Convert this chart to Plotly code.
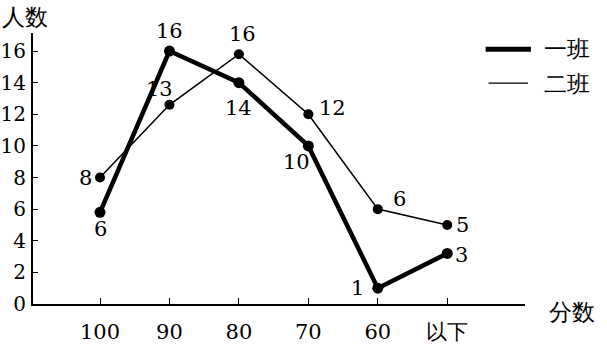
import plotly.graph_objects as go

categories = ["100", "90", "80", "70", "60", "以下"]
class1_values = [5.8, 16, 14, 10, 1, 3.2]
class1_labels = ["6", "16", "14", "10", "1", "3"]
class2_values = [8, 12.6, 15.8, 12, 6, 5]
class2_labels = ["8", "13", "16", "12", "6", "5"]
y_ticks = [0, 2, 4, 6, 8, 10, 12, 14, 16]
series_names = ["一班", "二班"]

FONT = "DejaVu Serif"
FS = 20
xs = list(range(len(categories)))

fig = go.Figure()
fig.add_trace(go.Scatter(x=xs, y=class2_values, mode="lines+markers",
                         line=dict(color="black", width=1.6),
                         marker=dict(color="black", size=10), showlegend=False))
fig.add_trace(go.Scatter(x=xs, y=class1_values, mode="lines+markers",
                         line=dict(color="black", width=4.5),
                         marker=dict(color="black", size=11), showlegend=False))

c1_off = [(0, -17), (0, 20), (0, -25), (-12, -16), (-20, 0), (14, -2)]
c2_off = [(-15, 0), (-10, 16), (4, 20), (24, 6), (22, 10), (15, 0)]
anns = []
for i in xs:
    anns.append(dict(x=i, y=class1_values[i], text=class1_labels[i], showarrow=False,
                     xshift=c1_off[i][0], yshift=c1_off[i][1],
                     font=dict(family=FONT, size=FS + 1, color="black")))
    anns.append(dict(x=i, y=class2_values[i], text=class2_labels[i], showarrow=False,
                     xshift=c2_off[i][0], yshift=c2_off[i][1],
                     font=dict(family=FONT, size=FS + 1, color="black")))

anns.append(dict(xref="paper", yref="paper", x=-0.068, y=1.06, xanchor="left", yanchor="middle",
                 text="人数", showarrow=False, font=dict(family=FONT, size=23, color="black")))
anns.append(dict(xref="paper", yref="paper", x=1.045, y=-0.03, xanchor="left", yanchor="middle",
                 text="分数", showarrow=False, font=dict(family=FONT, size=23, color="black")))
anns.append(dict(xref="paper", yref="paper", x=1.035, y=0.94, xanchor="left", yanchor="middle",
                 text=series_names[0], showarrow=False, font=dict(family=FONT, size=23, color="black")))
anns.append(dict(xref="paper", yref="paper", x=1.035, y=0.81, xanchor="left", yanchor="middle",
                 text=series_names[1], showarrow=False, font=dict(family=FONT, size=23, color="black")))

shapes = [
    dict(type="line", xref="paper", yref="paper", x0=0.92, x1=1.012, y0=0.94, y1=0.94,
         line=dict(color="black", width=5)),
    dict(type="line", xref="paper", yref="paper", x0=0.926, x1=1.006, y0=0.815, y1=0.815,
         line=dict(color="black", width=1.3)),
]

fig.update_layout(
    width=607, height=351,
    margin=dict(l=33, r=82, t=33, b=47, autoexpand=False),
    plot_bgcolor="white", paper_bgcolor="white",
    annotations=anns, shapes=shapes,
    xaxis=dict(range=[-0.965, 6.12], tickmode="array", tickvals=xs, ticktext=categories,
               automargin=False,
               showgrid=False, zeroline=False, showline=True, linecolor="black", linewidth=2,
               ticks="inside", ticklen=6, tickwidth=1.2, tickcolor="black",
               ticklabelstandoff=8,
               tickfont=dict(family=FONT, size=FS + 1, color="black")),
    yaxis=dict(range=[0, 17.14], tickmode="array", tickvals=y_ticks,
               automargin=False,
               showgrid=False, zeroline=False, showline=True, linecolor="black", linewidth=2,
               ticks="inside", ticklen=5, tickwidth=1.2, tickcolor="black",
               ticklabelstandoff=1,
               tickfont=dict(family=FONT, size=FS, color="black")),
)

fig.write_html("out.html")
